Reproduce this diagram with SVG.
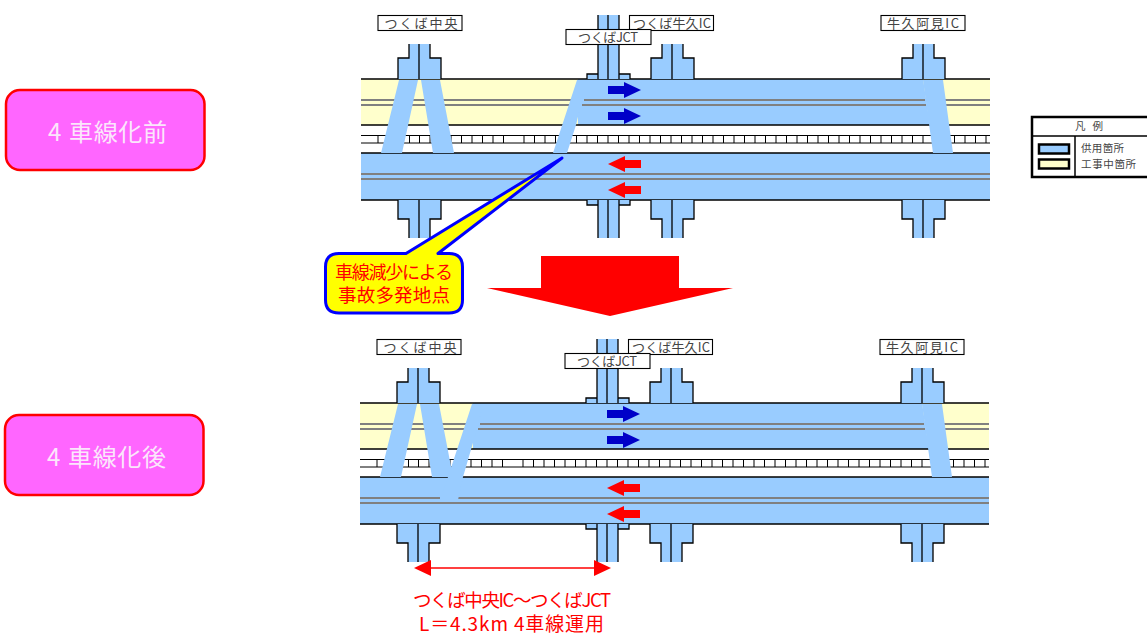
<svg xmlns="http://www.w3.org/2000/svg" width="1147" height="634" viewBox="0 0 1147 634">
<style>
text{font-family:"Noto Sans CJK JP","Liberation Sans",sans-serif}
.bk{fill:none;stroke:#000;stroke-width:1.3}
.lad{fill:none;stroke:#000;stroke-width:1}
.bl{fill:#99ccff}
.ye{fill:#ffffcc}
.gr{stroke:#808080;stroke-width:2;fill:none}
.lbl{fill:#fff;stroke:#000;stroke-width:1.1}
.lt{font-size:13px;fill:#444;text-anchor:middle}
.ab{fill:#0000c8}
.ar{fill:#ff0000}
.pk{fill:#ff66ff;stroke:#ff0000;stroke-width:2.500}
.pt{font-size:24px;fill:#fbe6fb}
.rt{fill:#ff0000;text-anchor:middle}
.lg{font-size:10.500px;fill:#444}
</style>
<defs>
<path id="ab" class="ab" d="M0 -4H16V-8L33 0L16 8V4H0Z"/>
<path id="ar" class="ar" d="M33 -4H17V-8L0 0L17 8V4H33Z"/>
<g id="ic">
<path class="bl" d="M-21 35V14H-10V0H11V14H22V35ZM-21 156V175H-10V194H11V175H22V156Z"/>
<path class="bk" d="M-21 35V14H-10V0M11 0V14H22V35M-21 156V175H-10V194M11 194V175H22V156M0 0V35M0 156V194"/>
</g>
<g id="jct">
<path class="bl" d="M-21 35V30H-10V-29H11V30H22V35ZM-21 156V161H-10V194H11V161H22V156Z"/>
<path class="bk" d="M-21 35V30H-10V-29M11 -29V30H22V35M-21 156V161H-10V194M11 194V161H22V156M-10 30V35M11 30V35M-10 156V161M11 156V161M0 -29V35M0 156V194"/>
</g>
<path id="ladder" class="lad" d="M361 135.500H990M361 143H990M378 135.500V143M388.500 135.500V143M399 135.500V143M409.500 135.500V143M419.500 135.500V143M430 135.500V143M440.500 135.500V143M451 135.500V143M461.500 135.500V143M472 135.500V143M482.500 135.500V143M493 135.500V143M503.500 135.500V143M524 135.500V143M534.500 135.500V143M545 135.500V143M555.500 135.500V143M566 135.500V143M576.500 135.500V143M587 135.500V143M597.500 135.500V143M608 135.500V143M618.500 135.500V143M629 135.500V143M639.500 135.500V143M650 135.500V143M660.500 135.500V143M671 135.500V143M681.500 135.500V143M692 135.500V143M702.500 135.500V143M713 135.500V143M723.500 135.500V143M734 135.500V143M744.500 135.500V143M755 135.500V143M765.500 135.500V143M776 135.500V143M786.500 135.500V143M797 135.500V143M807.500 135.500V143M818 135.500V143M828.500 135.500V143M839 135.500V143M849.500 135.500V143M860 135.500V143M870.500 135.500V143M881 135.500V143M891.500 135.500V143M902 135.500V143M912.500 135.500V143M923 135.500V143M933.500 135.500V143M944 135.500V143M954.500 135.500V143M965 135.500V143M975.500 135.500V143M986 135.500V143"/>
<g id="labels">
<rect class="lbl" x="378" y="15.500" width="84" height="15"/>
<text class="lt" x="421" y="28" textLength="73" lengthAdjust="spacing">つくば中央</text>
<rect class="lbl" x="629.500" y="15.500" width="84" height="15"/>
<text class="lt" x="672" y="28" textLength="78" lengthAdjust="spacing">つくば牛久IC</text>
<rect class="lbl" x="881" y="15.500" width="84" height="15"/>
<text class="lt" x="923" y="28" textLength="72" lengthAdjust="spacing">牛久阿見IC</text>
</g>
<g id="jlabel">
<rect class="lbl" x="566" y="29.500" width="85" height="15"/>
<text class="lt" x="608" y="42" textLength="60" lengthAdjust="spacing">つくばJCT</text>
</g>
</defs>

<g id="panel-before">
<g id="road-before">
<rect class="ye" x="361" y="79" width="629" height="46"/>
<path class="bl" d="M578 79H923L930 125H578Z"/>
<rect class="bl" x="361" y="153" width="629" height="47"/>
<path class="gr" d="M361 100H572M361 105H570M584 100H925M582 105H926M945 100H990M946 105H990M361 174H990M361 179H990"/>
<path class="bk" d="M361 79H990M361 125H990M361 153H990M361 200H990"/>
<use href="#ladder"/>
</g>
<g id="ic-tsukuba-chuo-before"><use href="#ic" x="419" y="44"/></g>
<g id="ic-ushiku-before"><use href="#ic" x="672" y="44"/></g>
<g id="ic-ami-before"><use href="#ic" x="923" y="44"/></g>
<g id="jct-before"><use href="#jct" x="608" y="44"/></g>
<path class="bl" d="M399 80H418L402 153H381ZM421 80H440L454 153H433ZM923 80H943L953 153H933ZM577 80H590L582 100L576 125L567 153H553Z"/>
<use href="#labels"/><use href="#jlabel"/>
<g id="arrows-before">
<use href="#ab" x="608" y="90"/><use href="#ab" x="608" y="116"/>
<use href="#ar" x="608" y="164"/><use href="#ar" x="608" y="190"/>
</g>
</g>

<g id="panel-after" transform="translate(-1 324)">
<g id="road-after">
<rect class="ye" x="361" y="79" width="629" height="46"/>
<path class="bl" d="M474 79H923L930 125H474Z"/>
<rect class="bl" x="361" y="153" width="629" height="47"/>
<path class="gr" d="M361 100H472M361 105H470M481 100H925M479 105H926M945 100H990M946 105H990M361 174H441M361 179H990M459 174H990"/>
<path class="bk" d="M361 79H990M361 125H990M361 153H990M361 200H990" style="stroke-width:1.600"/>
<use href="#ladder"/>
</g>
<g id="ic-tsukuba-chuo-after"><use href="#ic" x="419" y="44"/></g>
<g id="ic-ushiku-after"><use href="#ic" x="672" y="44"/></g>
<g id="ic-ami-after"><use href="#ic" x="923" y="44"/></g>
<g id="jct-after"><use href="#jct" x="608" y="44"/></g>
<path class="bl" d="M399 80H418L402 153H381ZM421 80H440L454 153H433ZM923 80H943L953 153H933ZM473 80H484L478 105L464 153L459 176H441L449 153Z"/>
<use href="#labels"/><use href="#jlabel"/>
<g id="arrows-after">
<use href="#ab" x="608" y="90"/><use href="#ab" x="608" y="116"/>
<use href="#ar" x="608" y="164"/><use href="#ar" x="608" y="190"/>
</g>
</g>

<g id="callout">
<path d="M339 253.500H406L562 158L438 253.500H449Q462.500 253.500 462.500 267V300Q462.500 313 449 313H339Q325.500 313 325.500 300V267Q325.500 253.500 339 253.500Z" fill="#ffff00" stroke="#0000ff" stroke-width="3" stroke-linejoin="round"/>
<text class="rt" x="394" y="279" font-size="18" textLength="118" lengthAdjust="spacing">車線減少による</text>
<text class="rt" x="394" y="302" font-size="18.500" textLength="112" lengthAdjust="spacing">事故多発地点</text>
</g>

<g id="big-arrow"><path class="ar" d="M541 256H679V288H733L610 316L487 288H541Z"/></g>

<g id="box-before">
<rect class="pk" x="6" y="90" width="198.500" height="80" rx="14"/>
<text class="pt" x="48" y="141"><tspan>4</tspan><tspan x="69" textLength="98">車線化前</tspan></text>
</g>
<g id="box-after">
<rect class="pk" x="5" y="415" width="198.500" height="80" rx="14"/>
<text class="pt" x="47" y="466"><tspan>4</tspan><tspan x="68" textLength="98">車線化後</tspan></text>
</g>

<g id="legend">
<rect x="1032" y="117" width="130" height="60" fill="#fff" stroke="#000" stroke-width="2.500"/>
<path d="M1032 136H1147M1075 136V177" stroke="#000" stroke-width="1.500" fill="none"/>
<rect x="1039" y="144.500" width="30" height="9" fill="#99ccff" stroke="#000" stroke-width="2.500"/>
<rect x="1039" y="159.500" width="30" height="9" fill="#ffffcc" stroke="#000" stroke-width="2.500"/>
<text class="lg" x="1075" y="130" textLength="28" lengthAdjust="spacing">凡 例</text>
<text class="lg" x="1081" y="152" textLength="43" lengthAdjust="spacing">供用箇所</text>
<text class="lg" x="1081" y="168" textLength="55" lengthAdjust="spacing">工事中箇所</text>
</g>

<g id="dimension">
<path d="M431 568H594" stroke="#ff0000" stroke-width="1.500" fill="none"/>
<path class="ar" d="M414 568L431 560V576ZM611 568L594 560V576Z"/>
<text class="rt" x="512" y="607" font-size="18.500" textLength="198" lengthAdjust="spacing">つくば中央IC～つくばJCT</text>
<text class="rt" x="511.500" y="631" font-size="19" textLength="185" lengthAdjust="spacing">L＝4.3km 4車線運用</text>
</g>
</svg>
